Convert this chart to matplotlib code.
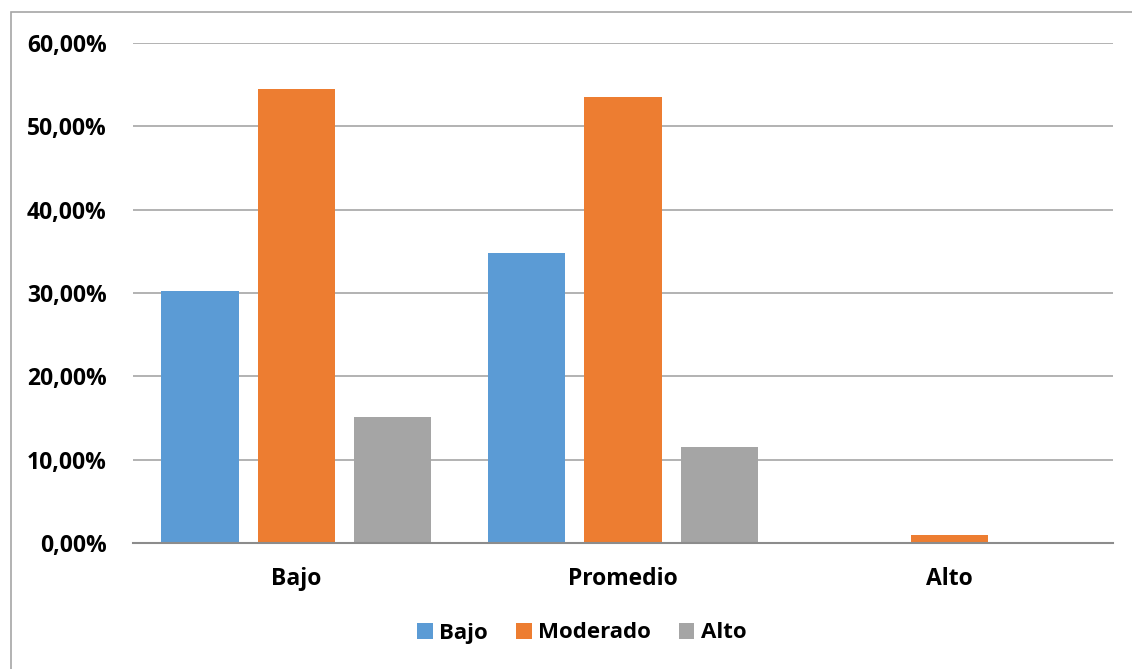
import numpy as np
import matplotlib.pyplot as plt
from matplotlib.ticker import FuncFormatter
from matplotlib.patches import Rectangle

categories = ["Bajo", "Promedio", "Alto"]
series_names = ["Bajo", "Moderado", "Alto"]
bajo = [30.25, 34.85, 0.0]
moderado = [54.5, 53.5, 0.97]
alto = [15.15, 11.55, 0.0]
colors = ["#5B9BD5", "#ED7D31", "#A5A5A5"]

plt.rcParams['font.family'] = ['Open Sans', 'DejaVu Sans']
plt.rcParams['font.weight'] = 'bold'

fig = plt.figure(figsize=(11.32, 6.69), dpi=100)
ax = fig.add_axes([133/1132, 1 - 543/669, 980/1132, 500/669])

x = np.arange(len(categories))
w = 0.236
step = 0.295
for i, vals in enumerate([bajo, moderado, alto]):
    ax.bar(x + (i - 1) * step, vals, w, color=colors[i], label=series_names[i], zorder=3)

ax.set_xlim(-0.5, 2.5)
ax.set_ylim(0, 60)
ax.set_yticks(np.arange(0, 61, 10))
ax.yaxis.set_major_formatter(FuncFormatter(lambda v, p: f"{v:.2f}%".replace(".", ",")))
ax.set_xticks(x)
ax.set_xticklabels(categories)
ax.tick_params(axis='both', length=0, labelsize=16.5)
ax.tick_params(axis='y', pad=19)
ax.tick_params(axis='x', pad=17)
for lab in ax.get_xticklabels() + ax.get_yticklabels():
    lab.set_fontweight('bold')

ax.grid(axis='y', color='#A6A6A6', linewidth=1.2, zorder=0)
for s in ['top', 'right', 'left']:
    ax.spines[s].set_visible(False)
ax.spines['bottom'].set_color('#8C8C8C')
ax.spines['bottom'].set_linewidth(1.5)
ax.spines['bottom'].set_zorder(4)

# outer chart border
fig.patches.append(Rectangle((11/1132, -0.01), 1.2, 1 - 12/669 + 0.01, transform=fig.transFigure,
                             fill=False, edgecolor='#A6A6A6', linewidth=1.2))

leg = fig.legend(loc='center', bbox_to_anchor=(582/1132, 1 - 633/669), ncol=3, frameon=False,
                 handlelength=0.7, handleheight=0.7, handletextpad=0.3,
                 columnspacing=1.25, prop={'weight': 'bold', 'size': 16})

fig.savefig("out.png", dpi=100)
